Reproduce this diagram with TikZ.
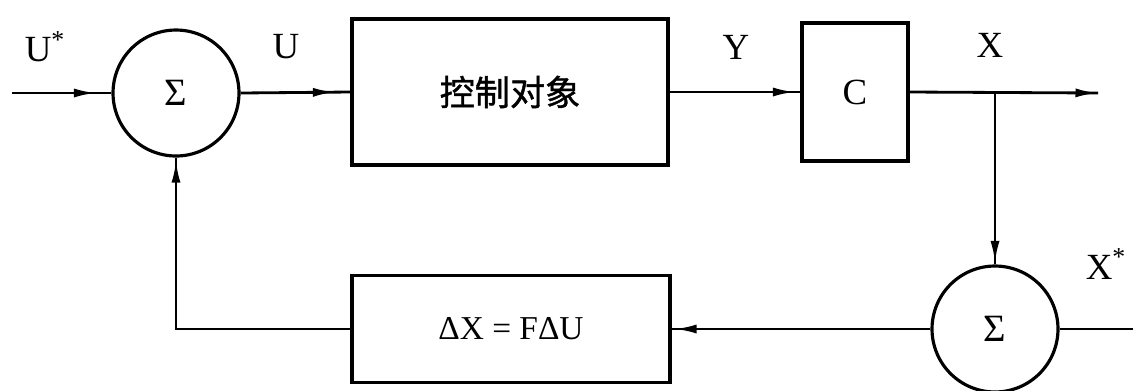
\documentclass[tikz,border=0pt]{standalone}
\usepackage{fontspec}
\setmainfont{Liberation Serif}
\newfontfamily\cjk[FakeBold=1.2]{Noto Sans CJK SC}
\usetikzlibrary{arrows.meta,decorations.markings}
\begin{document}
\begin{tikzpicture}[x=0.02cm,y=-0.02cm,
  line width=1.6pt,
  blk/.style={draw, line width=1.8pt, inner sep=0pt, anchor=center},
  sumc/.style={draw, circle, line width=1.8pt, minimum size=2.52cm, inner sep=0pt,
    font=\fontsize{22}{22}\selectfont},
  lbl/.style={font=\fontsize{21}{21}\selectfont, inner sep=0pt},
  arr/.style={postaction={decorate}, decoration={markings,
    mark=at position #1 with {\arrow{Latex[length=0.45cm,width=0.18cm]}}}}
]
\useasboundingbox (0,0) rectangle (1133,390);

\node[sumc] (s1) at (176,93) {Σ};
\node[blk, minimum width=6.32cm, minimum height=2.92cm,
  font=\cjk\fontsize{20}{20}\selectfont] (plant) at (510,92) {控制对象};
\node[blk, minimum width=2.12cm, minimum height=2.76cm,
  font=\fontsize{21}{21}\selectfont] (C) at (855,92) {C};
\node[sumc] (s2) at (995,329) {Σ};
\node[blk, minimum width=6.36cm, minimum height=2.14cm,
  font=\fontsize{19}{19}\selectfont] (fb) at (511,329) {ΔX = FΔU};

\coordinate (in) at (12,93);
\coordinate (out) at (1098,93);
\coordinate (xs) at (1133,329);
\coordinate (br) at (s2.north |- C.east);

\node[lbl] (lU0) at (45,47) {U\textsuperscript{*}};
\node[lbl] (lU) at (286,47) {U};
\node[lbl] (lY) at (736,47) {Y};
\node[lbl] (lX) at (990,45) {X};
\node[lbl] (lXs) at (1106,264) {X\textsuperscript{*}};

\draw[arr=-0.3cm] (in) -- (s1.west);
\draw[arr=-0.3cm] (s1.east) -- (plant.west);
\draw[arr=-0.1cm] (plant.east) -- (C.west);
\draw[arr=1] (C.east) -- (out);
\draw[arr=-0.02cm] (br) -- (s2.north);
\draw (xs) -- (s2.east);
\draw[arr=-0.05cm] (s2.west) -- (fb.east);
\draw[arr=-0.05cm] (fb.west) -| (s1.south);
\end{tikzpicture}
\end{document}
